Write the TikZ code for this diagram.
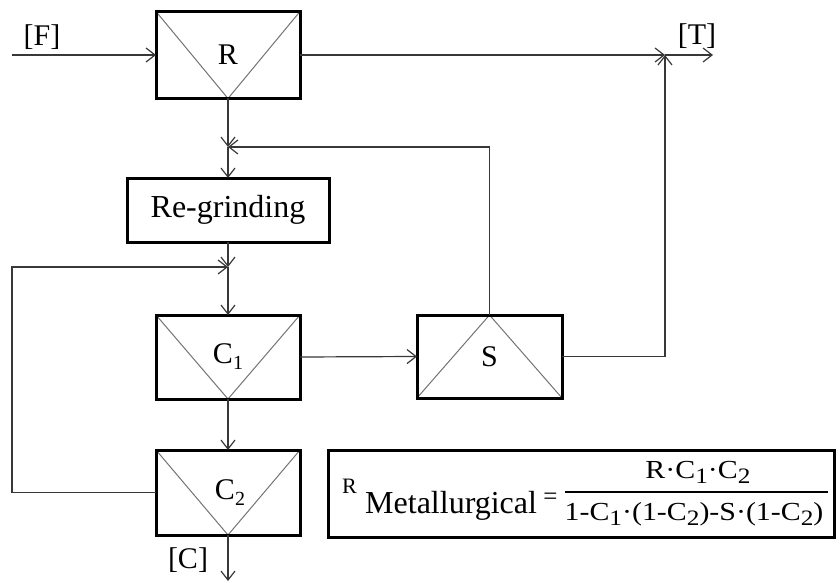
\documentclass[tikz,border=0pt]{standalone}
\usepackage{fontspec}
\setmainfont{Liberation Serif}
\newfontfamily\ffont[FakeStretch=1.15]{Liberation Serif}
\usetikzlibrary{arrows.meta}
\newcommand\lsub[1]{\raisebox{-6pt}{\fontsize{20}{20}\selectfont #1}}
\newcommand\fsub[1]{\raisebox{-5pt}{\fontsize{22}{22}\selectfont #1}}
\tikzset{
  conn/.style={draw=black!78, line width=1.2pt, -{Straight Barb[length=9pt,width=14pt]}},
  tri/.style={draw=black!55, line width=1pt},
  unit/.style={draw=black, line width=3pt, minimum width=144pt, minimum height=85pt,
    inner sep=0pt, outer sep=0pt, font=\fontsize{30}{36}\selectfont},
  vdown/.style={unit, path picture={\draw[tri] (path picture bounding box.north west) -- (path picture bounding box.south) -- (path picture bounding box.north east);}},
  vup/.style={unit, path picture={\draw[tri] (path picture bounding box.south west) -- (path picture bounding box.north) -- (path picture bounding box.south east);}},
  lbl/.style={inner sep=0pt, font=\fontsize{30}{36}\selectfont},
  ftxt/.style={inner sep=0pt, anchor=base},
}
\begin{document}
\begin{tikzpicture}[x=1pt,y=-1pt]
\useasboundingbox (0,0) rectangle (840,583);
% units
\node[vdown, minimum height=87pt] (R) at (228,55) {R};
\node[unit, minimum width=202pt, minimum height=64pt, font=\fontsize{32}{38}\selectfont] (G) at (228,210) {Re-grinding};
\node[vdown, minimum height=84pt] (C1) at (228,357) {C\lsub{1}};
\node[vup, minimum width=145pt, minimum height=83pt] (S) at (489.5,356.5) {S};
\node[vdown] (C2) at (228,492.5) {\hspace{4pt}\raisebox{-4pt}{C\lsub{2}}};
% free ends and junctions
\coordinate (Fin) at (12,55);
\coordinate (Tj) at (665,55);
\coordinate (Tout) at (713,55);
\coordinate (J1) at (228,147);
\coordinate (J2) at (228,267);
\coordinate (Lc) at (12,267);
\coordinate (Cout) at (228,581);
% connectors
\draw[conn] (Fin) -- (R.west);
\draw[conn] (R.east) -- (Tj);
\draw[conn] (Tj) -- (Tout);
\draw[conn] (S.east) -| (Tj);
\draw[conn] (R.south) -- (J1);
\draw[conn] (S.north) |- (J1);
\draw[conn] (J1) -- (G.north);
\draw[conn] (G.south) -- (J2);
\draw[conn] (C2.west) -| (Lc) -- (J2);
\draw[conn] (J2) -- (C1.north);
\draw[conn] (C1.east) -- (S.west);
\draw[conn] (C1.south) -- (C2.north);
\draw[conn] (C2.south) -- (Cout);
% stream labels
\node[lbl] (F) at (42,37) {[F]};
\node[lbl] (T) at (697,36) {[T]};
\node[lbl] (C) at (188,560) {[C]};
% formula
\node[draw, line width=3pt, minimum width=506pt, minimum height=87pt, inner sep=0pt, outer sep=0pt] (FB) at (581,493.5) {};
\node[ftxt, anchor=base west, font=\fontsize{22}{22}\selectfont] (Rs) at (342,493) {R};
\node[ftxt, anchor=base west, font=\fontsize{32}{32}\selectfont] (Met) at (365,513) {Metallurgical};
\node[inner sep=0pt, font=\fontsize{25}{25}\selectfont] (Eq) at (550.5,499) {=};
\node[ftxt, font=\ffont\fontsize{26}{26}\selectfont] (Num) at (698,478) {R·C\fsub{1}·C\fsub{2}};
\node[ftxt, font=\ffont\fontsize{26}{26}\selectfont] (Den) at (694,520) {1-C\fsub{1}·(1-C\fsub{2})-S·(1-C\fsub{2})};
\draw[line width=1.5pt] (565,492) -- (828,492);
\end{tikzpicture}
\end{document}
